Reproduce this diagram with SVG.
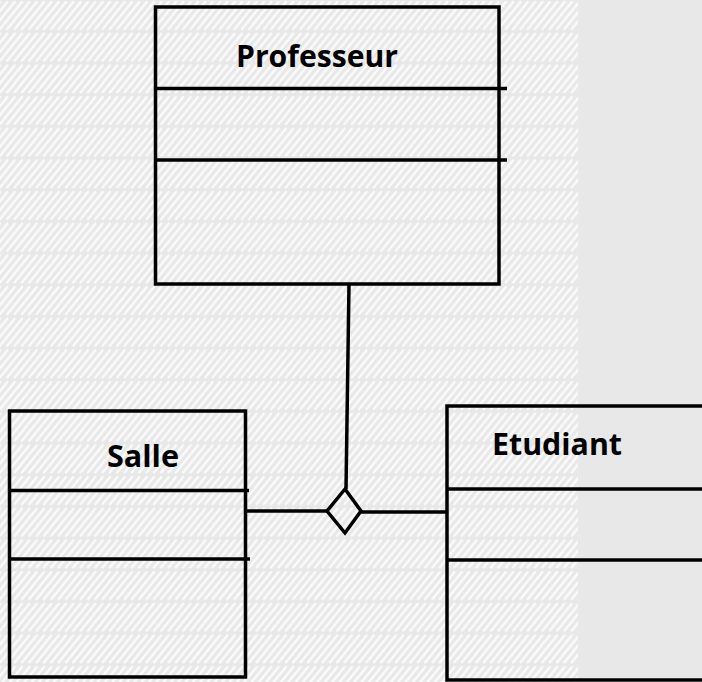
<svg xmlns="http://www.w3.org/2000/svg" width="702" height="682" viewBox="0 0 702 682">
  <style>
    .box { fill: none; stroke: #000; stroke-width: 3.5; }
    .rule { stroke: #000; stroke-width: 3.5; fill: none; }
    .edge { stroke: #000; stroke-width: 3.5; fill: none; }
    .title { font-family: "Open Sans", "Liberation Sans", sans-serif; font-weight: 700; font-size: 30px; fill: #000; }
  </style>
  <defs>
    <!-- light diagonal hatching in horizontal bands -->
    <pattern id="hatch" patternUnits="userSpaceOnUse" x="0" y="0" width="7.33" height="31.67">
      <rect width="7.33" height="31.67" fill="#e8e8e8"/>
      <g stroke="#fbfbfb" stroke-width="2.4" stroke-linecap="round">
        <line x1="-22" y1="29" x2="0" y2="2"/>
        <line x1="-14.67" y1="29" x2="7.33" y2="2"/>
        <line x1="-7.33" y1="29" x2="14.67" y2="2"/>
        <line x1="0" y1="29" x2="22" y2="2"/>
        <line x1="7.33" y1="29" x2="29.33" y2="2"/>
      </g>
    </pattern>
  </defs>

  <!-- background -->
  <rect x="0" y="0" width="702" height="682" fill="#e8e8e8"/>
  <rect x="0" y="0" width="578" height="682" fill="url(#hatch)"/>

  <!-- connectors -->
  <g id="connectors">
    <line class="edge" x1="349" y1="284" x2="346" y2="489"/>
    <line class="edge" x1="245" y1="511" x2="327" y2="511"/>
    <line class="edge" x1="361" y1="512" x2="447" y2="512"/>
    <polygon class="edge" points="345,489 361,511 345,533 327,511"/>
  </g>

  <g id="professeur">
    <rect class="box" x="155.5" y="7" width="343.5" height="277"/>
    <line class="rule" x1="155.5" y1="88.5" x2="507" y2="88.5"/>
    <line class="rule" x1="155.5" y1="160" x2="507" y2="160"/>
    <text class="title" x="236" y="67" textLength="162" lengthAdjust="spacingAndGlyphs">Professeur</text>
  </g>

  <g id="salle">
    <rect class="box" x="9.5" y="411" width="236" height="266"/>
    <line class="rule" x1="9.5" y1="490.5" x2="249" y2="490.5"/>
    <line class="rule" x1="9.5" y1="559" x2="250" y2="559"/>
    <text class="title" x="107" y="467" textLength="72" lengthAdjust="spacingAndGlyphs">Salle</text>
  </g>

  <g id="etudiant">
    <rect class="box" x="447" y="406" width="270" height="274"/>
    <line class="rule" x1="447" y1="489" x2="710" y2="489"/>
    <line class="rule" x1="447" y1="560" x2="710" y2="560"/>
    <text class="title" x="492" y="455" textLength="130" lengthAdjust="spacingAndGlyphs">Etudiant</text>
  </g>
</svg>
